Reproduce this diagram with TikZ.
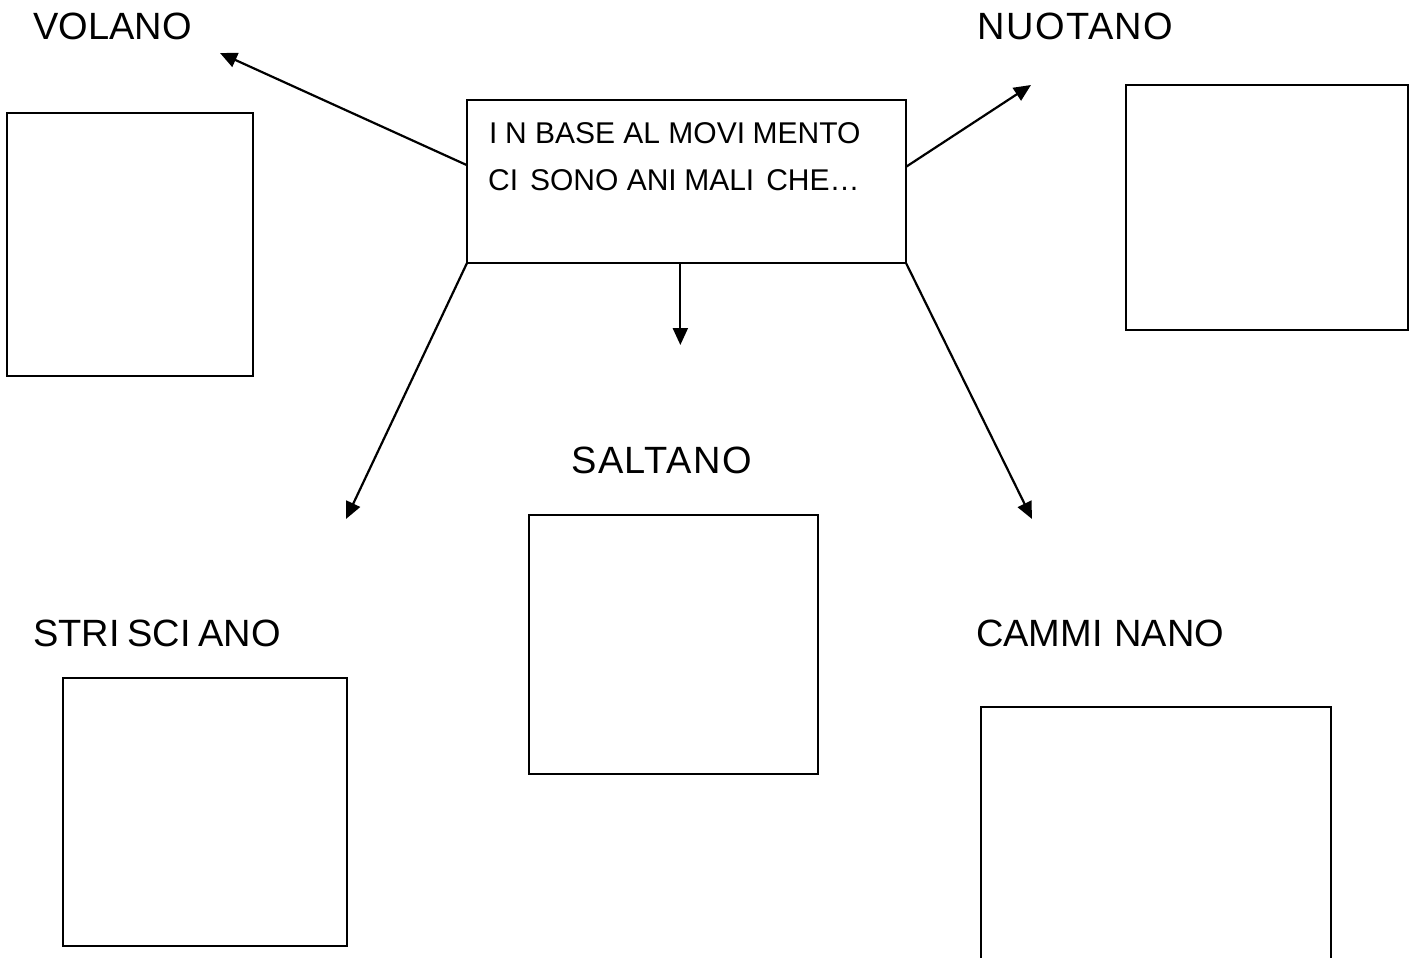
\documentclass[tikz,border=0pt]{standalone}
\usepackage{fontspec}
\setmainfont{Liberation Sans}
\usetikzlibrary{arrows.meta,calc}
\newcommand{\Ig}{\hspace{0.25em}}
\newcommand{\Ih}{\hspace{0.12em}}
\tikzset{
  frame/.style={draw=black, line width=2.4pt, fill=none, inner sep=0pt, outer sep=0pt, anchor=north west},
  lbl/.style={anchor=base west, inner sep=0pt, font=\fontsize{38pt}{44pt}\selectfont},
  widelbl/.style={lbl, font=\fontsize{38pt}{44pt}\selectfont\addfontfeatures{LetterSpace=4}},
  boxtxt/.style={anchor=base west, inner sep=0pt, font=\fontsize{30pt}{36pt}\selectfont},
  conn/.style={draw=black, line width=2.2pt, -{Triangle[length=17pt,width=15pt]}}
}
\begin{document}
\begin{tikzpicture}[x=1pt,y=-1pt]
\useasboundingbox (0,0) rectangle (1416,958);
\fill[white] (0,0) rectangle (1416,958);
\clip (0,0) rectangle (1416,958);
% central box
\node[frame, minimum width=439pt, minimum height=163pt] (cb) at (467,100) {};
\node[boxtxt] (cbt1) at (489,143) {I\Ig N BASE AL MOVI\Ig MENTO};
\node[boxtxt] (cbt2) at (488,190) {CI\Ih\ SONO ANI\Ig MALI\Ih\ CHE\ldots};
% labels
\node[lbl] (volano) at (33,40) {VOLANO};
\node[widelbl] (nuotano) at (977,40) {NUOTANO};
\node[widelbl] (saltano) at (571,473) {SALTANO};
\node[lbl] (strisciano) at (33,646) {STRI\hspace{0.2em}SCI\hspace{0.2em}ANO};
\node[lbl] (camminano) at (976,646) {CAMMI\hspace{0.3em}NANO};
% answer boxes
\node[frame, minimum width=246pt, minimum height=263pt] (bvol) at (7,113) {};
\node[frame, minimum width=282pt, minimum height=245pt] (bnuo) at (1126,85) {};
\node[frame, minimum width=289pt, minimum height=259pt] (bsal) at (529,515) {};
\node[frame, minimum width=284pt, minimum height=268pt] (bstr) at (63,678) {};
\node[frame, minimum width=350pt, minimum height=270pt] (bcam) at (981,707) {};
% connector ends
\coordinate (svol) at ($(cb.north west)!0.4!(cb.south west)$);
\coordinate (snuo) at ($(cb.north east)!0.41!(cb.south east)$);
\coordinate (ssal) at ($(cb.south west)!0.486!(cb.south east)$);
\coordinate (tvol) at (220,53);
\coordinate (tnuo) at (1031,85);
\coordinate (tsal) at (680,345);
\coordinate (tstr) at (346,519);
\coordinate (tcam) at (1032,519);
% connectors
\draw[conn] (svol) -- (tvol);
\draw[conn] (snuo) -- (tnuo);
\draw[conn] (ssal) -- (ssal |- tsal);
\draw[conn] (cb.south west) -- (tstr);
\draw[conn] (cb.south east) -- (tcam);
\end{tikzpicture}
\end{document}
